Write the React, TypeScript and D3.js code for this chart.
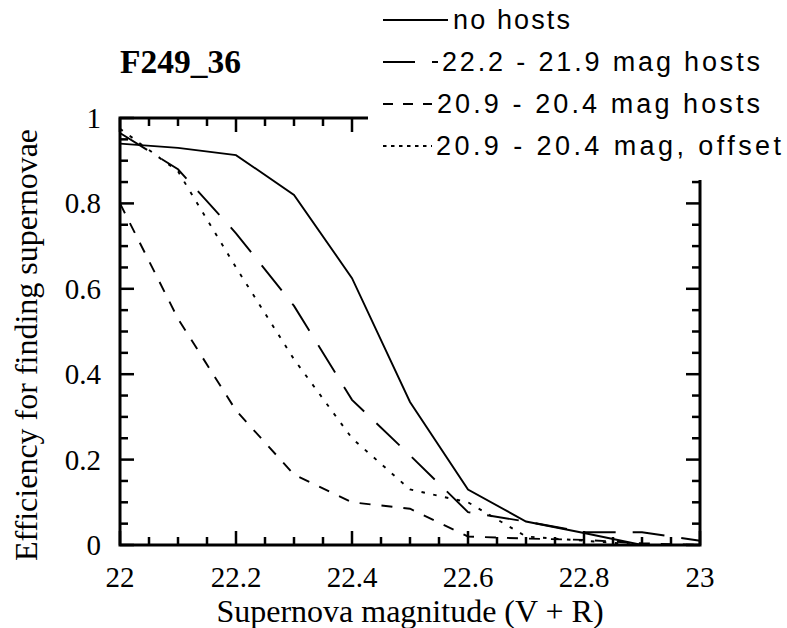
import React from 'react';
import * as d3 from 'd3';

// ---- data ----
const magnitudes = [22.0, 22.1, 22.2, 22.3, 22.4, 22.5, 22.6, 22.7, 22.8, 22.9, 23.0];
const noHosts = [0.94, 0.93, 0.913, 0.82, 0.625, 0.335, 0.13, 0.055, 0.028, 0.0, 0.0];
const hostsBright = [0.965, 0.88, 0.73, 0.56, 0.34, 0.21, 0.077, 0.055, 0.03, 0.03, 0.01];
const hostsFaint = [0.8, 0.53, 0.315, 0.165, 0.1, 0.085, 0.02, 0.015, 0.012, 0.004, 0.0];
const hostsFaintOffset = [0.975, 0.875, 0.65, 0.435, 0.25, 0.13, 0.1, 0.02, 0.01, 0.0, 0.0];

const seriesNames = [
  'no hosts',
  '22.2 - 21.9 mag hosts',
  '20.9 - 20.4 mag hosts',
  '20.9 - 20.4 mag, offset',
];
const seriesValues = [noHosts, hostsBright, hostsFaint, hostsFaintOffset];

const xTickValues = [22, 22.2, 22.4, 22.6, 22.8, 23];
const xTickLabels = ['22', '22.2', '22.4', '22.6', '22.8', '23'];
const yTickValues = [0, 0.2, 0.4, 0.6, 0.8, 1];
const yTickLabels = ['0', '0.2', '0.4', '0.6', '0.8', '1'];

const titleText = 'F249_36';
const xTitle = 'Supernova magnitude (V + R)';
const yTitle = 'Efficiency for finding supernovae';

// ---- styles ----
const dashes = ['', '32,17', '11,11', '3.5,8.5'];
const legendDashes = ['', '32,17', '10,10', '3.5,4.5'];
const legendLineEnd = [448, 438, 432, 432];
const legendTextX = [453, 442, 437, 436];
const legendTextLen = [117, 318, 323, 345];

export default function App() {
  const W = 787;
  const H = 628;
  const left = 120, right = 700, top = 118, bottom = 545;
  const x = d3.scaleLinear().domain([22, 23]).range([left, right]);
  const y = d3.scaleLinear().domain([0, 1]).range([bottom, top]);

  const xTicks = d3.range(0, 21).map((i) => 22 + i * 0.05);
  const yTicks = d3.range(0, 21).map((i) => i * 0.05);
  const major = (i: number) => i % 4 === 0;

  const line = d3
    .line<number>()
    .x((_, i) => x(magnitudes[i]))
    .y((d) => y(d));

  const serif = '"Liberation Serif", "Times New Roman", Times, serif';
  const sans = '"Liberation Sans", Arial, Helvetica, sans-serif';

  const legendY = [20, 62, 104, 146];

  return (
    <svg
      width={W}
      height={H}
      viewBox={`0 0 ${W} ${H}`}
      style={{ position: 'absolute', left: 0, top: 0, background: '#fff' }}
    >
      <rect x={0} y={0} width={W} height={H} fill="#fff" />

      {/* curves */}
      {seriesValues.map((vals, k) => (
        <path
          key={k}
          d={line(vals) || ''}
          fill="none"
          stroke="#000"
          strokeWidth={1.9}
          strokeDasharray={dashes[k] || undefined}
        />
      ))}

      {/* frame */}
      <rect x={left} y={top} width={right - left} height={bottom - top} fill="none" stroke="#000" strokeWidth={3} />

      {/* ticks: bottom & top */}
      {xTicks.map((v, i) => {
        const len = major(i) ? 14 : 8;
        const px = x(v);
        return (
          <g key={'xt' + i} stroke="#000" strokeWidth={2.5}>
            <line x1={px} x2={px} y1={bottom} y2={bottom - len} />
            <line x1={px} x2={px} y1={top} y2={top + len} />
          </g>
        );
      })}
      {/* ticks: left & right */}
      {yTicks.map((v, i) => {
        const len = major(i) ? 14 : 8;
        const py = y(v);
        return (
          <g key={'yt' + i} stroke="#000" strokeWidth={2.5}>
            <line x1={left} x2={left + len} y1={py} y2={py} />
            <line x1={right} x2={right - len} y1={py} y2={py} />
          </g>
        );
      })}

      {/* tick labels */}
      {xTickValues.map((v, i) => (
        <text
          key={'xl' + i}
          x={x(v)}
          y={587}
          textAnchor="middle"
          fontFamily={serif}
          fontSize={29}
        >
          {xTickLabels[i]}
        </text>
      ))}
      {yTickValues.map((v, i) => (
        <text
          key={'yl' + i}
          x={101}
          y={y(v) + 10}
          textAnchor="end"
          fontFamily={serif}
          fontSize={29}
        >
          {yTickLabels[i]}
        </text>
      ))}

      {/* axis titles */}
      <text x={410} y={622} textAnchor="middle" fontFamily={serif} fontSize={32}>
        {xTitle}
      </text>
      <text
        transform={`translate(37, 345) rotate(-90)`}
        textAnchor="middle"
        fontFamily={serif}
        fontSize={32}
      >
        {yTitle}
      </text>

      {/* title */}
      <text x={120} y={73} fontFamily={serif} fontSize={33.5} fontWeight="bold">
        {titleText}
      </text>

      {/* legend box covering the frame */}
      <rect x={368} y={0} width={W - 368} height={180} fill="#fff" />
      {seriesNames.map((name, k) => (
        <g key={'lg' + k}>
          <line
            x1={383}
            x2={legendLineEnd[k]}
            y1={legendY[k]}
            y2={legendY[k]}
            stroke="#000"
            strokeWidth={2}
            strokeDasharray={legendDashes[k] || undefined}
          />
          <text
            x={legendTextX[k]}
            y={legendY[k] + 9}
            fontFamily={sans}
            fontSize={27}
            textLength={legendTextLen[k]}
            lengthAdjust="spacing"
          >
            {name}
          </text>
        </g>
      ))}
    </svg>
  );
}
